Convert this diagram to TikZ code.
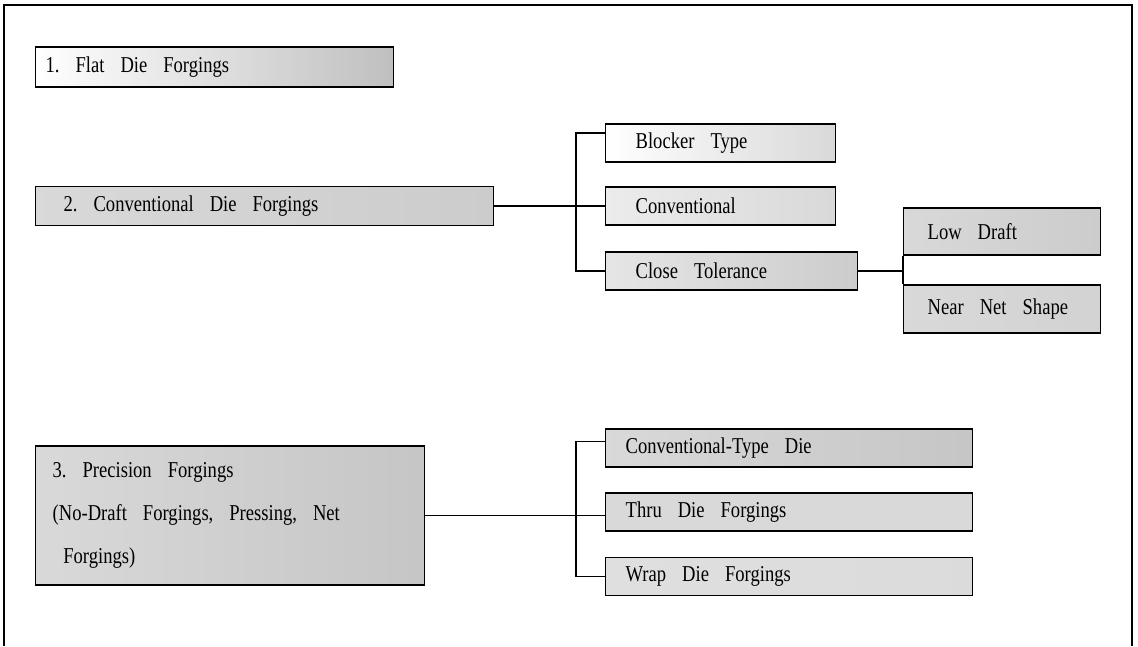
\documentclass[tikz,border=0pt]{standalone}
\usepackage{fontspec}
\setmainfont{Liberation Serif}[FakeStretch=0.82]
\newcommand\forgefont{\fontsize{17}{20}\selectfont}
\newcommand\ws{\hspace{12pt}}

\begin{document}
\begin{tikzpicture}[x=0.75pt, y=-0.75pt,
    forge/.style={draw, line width=1pt, anchor=west, align=left, inner ysep=0pt, font=\forgefont},
    link/.style={line width=1pt}]
    \useasboundingbox (0,0) rectangle (1138,646);
    \draw[line width=1.8pt] (4,646) -- (4,5) -- (1132,5) -- (1132,646);

    % left column
    \node[forge, left color=white, middle color=white, right color=gray!50, text width=253.5pt, inner xsep=7.5pt, minimum height=30pt] (flat) at (35,67) {1.\ws Flat\ws Die\ws Forgings};
    \node[forge, left color=gray!30, middle color=gray!15, right color=gray!40, text width=301.5pt, inner xsep=21pt, minimum height=29.25pt] (conv) at (35,206) {2.\ws Conventional\ws Die\ws Forgings};
    \node[forge, left color=gray!30, middle color=gray!12, right color=gray!45, text width=266.25pt, inner xsep=12.75pt, minimum height=104.25pt,
        font=\fontsize{17}{32.25}\selectfont] (prec) at (35,515.5) {3.\ws Precision\ws Forgings\\(No-Draft\ws Forgings,\ws Pressing,\ws Net\\\hspace*{8pt}Forgings)};

    % conventional die branches
    \node[forge, left color=white, middle color=gray!8, right color=gray!30, text width=127.5pt, inner xsep=22.5pt, minimum height=28.5pt] (blocker) at (605,143) {Blocker\ws Type};
    \node[forge, left color=gray!15, middle color=gray!10, right color=gray!30, text width=127.5pt, inner xsep=22.5pt, minimum height=28.5pt] (convtype) at (605,206) {Conventional};
    \node[forge, left color=gray!20, middle color=gray!15, right color=gray!40, text width=144pt, inner xsep=22.5pt, minimum height=28.5pt] (close) at (605,271) {Close\ws Tolerance};
    \node[forge, left color=gray!30, middle color=gray!25, right color=gray!40, text width=111.75pt, inner xsep=18pt, minimum height=35.25pt] (low) at (903,231.5) {Low\ws Draft};
    \node[forge, left color=gray!30, middle color=gray!20, right color=gray!35, text width=111.75pt, inner xsep=18pt, minimum height=36pt] (near) at (903,309) {Near\ws Net\ws Shape};

    % precision branches
    \node[forge, left color=gray!30, middle color=gray!30, right color=gray!45, text width=245.25pt, inner xsep=15pt, minimum height=28.5pt] (ctype) at (605,448) {Conventional-Type\ws Die};
    \node[forge, left color=gray!30, middle color=gray!20, right color=gray!30, text width=245.25pt, inner xsep=15pt, minimum height=28.5pt] (thru) at (605,512) {Thru\ws Die\ws Forgings};
    \node[forge, left color=gray!25, middle color=gray!18, right color=gray!28, text width=245.25pt, inner xsep=15pt, minimum height=28.5pt] (wrap) at (605,576.5) {Wrap\ws Die\ws Forgings};

    % connectors
    \coordinate (jct2) at (576,206);
    \coordinate (jct3) at (576,514);
    \draw[link] (conv.east) -- (convtype.west);
    \draw[link] ([yshift=7.5pt]blocker.west) -| (jct2) |- (close.west);
    \draw[link] (close.east) -- (close.east -| low.west);
    \draw[link] (low.south west) -- (near.north west);
    \draw[link] (prec.east) -- (prec.east -| thru.west);
    \draw[link] ([yshift=5pt]ctype.west) -| (jct3) |- (wrap.west);
\end{tikzpicture}
\end{document}
